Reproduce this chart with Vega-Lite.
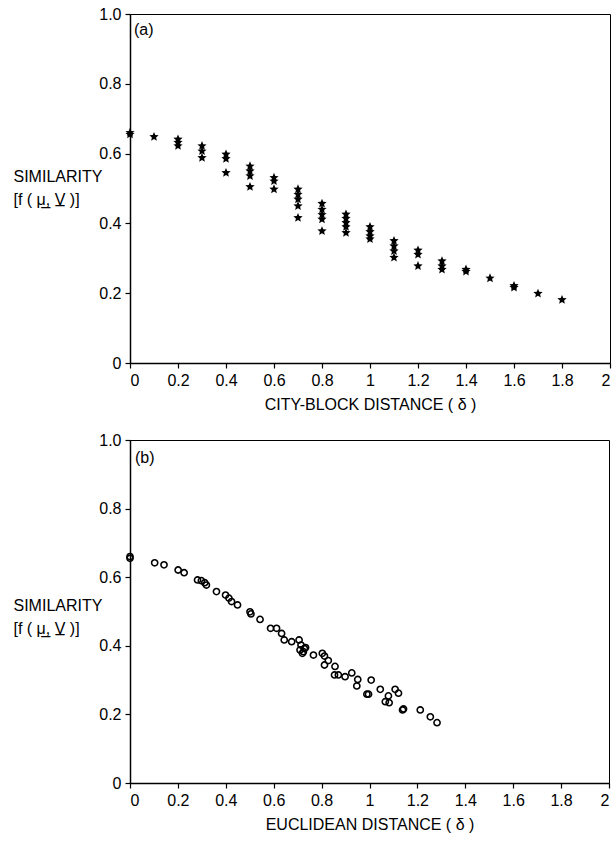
{
  "$schema": "https://vega.github.io/schema/vega-lite/v6.json",
  "padding": {"left": 12, "top": 5, "right": 0, "bottom": 0},
  "background": "white",
  "spacing": 18,
  "config": {
    "font": "Liberation Sans Narrow, Liberation Sans, Arial, sans-serif",
    "view": {"stroke": "black", "strokeWidth": 1},
    "axis": {
      "domainColor": "black",
      "domainWidth": 1.5,
      "tickColor": "black",
      "tickWidth": 1.2,
      "tickSize": 5,
      "labelColor": "black",
      "labelFontSize": 16,
      "labelPadding": 4,
      "titleColor": "black",
      "titleFontSize": 16,
      "titleFontWeight": "normal",
      "grid": false
    }
  },
  "datasets": {
    "cityBlock": [
      {"distance": 0.0, "similarity": 0.660}, {"distance": 0.0, "similarity": 0.655},
      {"distance": 0.1, "similarity": 0.648},
      {"distance": 0.2, "similarity": 0.641}, {"distance": 0.2, "similarity": 0.632}, {"distance": 0.2, "similarity": 0.622},
      {"distance": 0.3, "similarity": 0.622}, {"distance": 0.3, "similarity": 0.607}, {"distance": 0.3, "similarity": 0.588},
      {"distance": 0.4, "similarity": 0.598}, {"distance": 0.4, "similarity": 0.585}, {"distance": 0.4, "similarity": 0.545},
      {"distance": 0.5, "similarity": 0.564}, {"distance": 0.5, "similarity": 0.550}, {"distance": 0.5, "similarity": 0.536}, {"distance": 0.5, "similarity": 0.505},
      {"distance": 0.6, "similarity": 0.531}, {"distance": 0.6, "similarity": 0.521}, {"distance": 0.6, "similarity": 0.498},
      {"distance": 0.7, "similarity": 0.498}, {"distance": 0.7, "similarity": 0.483}, {"distance": 0.7, "similarity": 0.469}, {"distance": 0.7, "similarity": 0.450}, {"distance": 0.7, "similarity": 0.416},
      {"distance": 0.8, "similarity": 0.457}, {"distance": 0.8, "similarity": 0.440}, {"distance": 0.8, "similarity": 0.425}, {"distance": 0.8, "similarity": 0.412}, {"distance": 0.8, "similarity": 0.378},
      {"distance": 0.9, "similarity": 0.426}, {"distance": 0.9, "similarity": 0.414}, {"distance": 0.9, "similarity": 0.402}, {"distance": 0.9, "similarity": 0.390}, {"distance": 0.9, "similarity": 0.373},
      {"distance": 1.0, "similarity": 0.390}, {"distance": 1.0, "similarity": 0.376}, {"distance": 1.0, "similarity": 0.364}, {"distance": 1.0, "similarity": 0.355},
      {"distance": 1.1, "similarity": 0.350}, {"distance": 1.1, "similarity": 0.335}, {"distance": 1.1, "similarity": 0.321}, {"distance": 1.1, "similarity": 0.302},
      {"distance": 1.2, "similarity": 0.323}, {"distance": 1.2, "similarity": 0.311}, {"distance": 1.2, "similarity": 0.278},
      {"distance": 1.3, "similarity": 0.292}, {"distance": 1.3, "similarity": 0.278}, {"distance": 1.3, "similarity": 0.268},
      {"distance": 1.4, "similarity": 0.268}, {"distance": 1.4, "similarity": 0.262},
      {"distance": 1.5, "similarity": 0.243},
      {"distance": 1.6, "similarity": 0.221}, {"distance": 1.6, "similarity": 0.216},
      {"distance": 1.7, "similarity": 0.199},
      {"distance": 1.8, "similarity": 0.181}
    ],
    "euclidean": [
      {"distance": 0.000, "similarity": 0.655}, {"distance": 0.000, "similarity": 0.660},
      {"distance": 0.103, "similarity": 0.642}, {"distance": 0.142, "similarity": 0.636},
      {"distance": 0.201, "similarity": 0.621}, {"distance": 0.226, "similarity": 0.613},
      {"distance": 0.282, "similarity": 0.592}, {"distance": 0.298, "similarity": 0.590},
      {"distance": 0.312, "similarity": 0.584}, {"distance": 0.319, "similarity": 0.577},
      {"distance": 0.361, "similarity": 0.558}, {"distance": 0.399, "similarity": 0.548},
      {"distance": 0.413, "similarity": 0.539}, {"distance": 0.424, "similarity": 0.529},
      {"distance": 0.449, "similarity": 0.519}, {"distance": 0.501, "similarity": 0.499},
      {"distance": 0.505, "similarity": 0.493}, {"distance": 0.543, "similarity": 0.477},
      {"distance": 0.587, "similarity": 0.451}, {"distance": 0.612, "similarity": 0.451},
      {"distance": 0.633, "similarity": 0.436}, {"distance": 0.644, "similarity": 0.417},
      {"distance": 0.675, "similarity": 0.412}, {"distance": 0.706, "similarity": 0.417},
      {"distance": 0.714, "similarity": 0.402}, {"distance": 0.710, "similarity": 0.388},
      {"distance": 0.724, "similarity": 0.383}, {"distance": 0.733, "similarity": 0.395},
      {"distance": 0.728, "similarity": 0.392}, {"distance": 0.720, "similarity": 0.378},
      {"distance": 0.766, "similarity": 0.373}, {"distance": 0.803, "similarity": 0.378},
      {"distance": 0.812, "similarity": 0.370}, {"distance": 0.828, "similarity": 0.357},
      {"distance": 0.812, "similarity": 0.344}, {"distance": 0.856, "similarity": 0.340},
      {"distance": 0.854, "similarity": 0.315}, {"distance": 0.870, "similarity": 0.315},
      {"distance": 0.898, "similarity": 0.310}, {"distance": 0.926, "similarity": 0.321},
      {"distance": 0.951, "similarity": 0.302}, {"distance": 0.947, "similarity": 0.283},
      {"distance": 1.007, "similarity": 0.300}, {"distance": 0.996, "similarity": 0.259},
      {"distance": 0.989, "similarity": 0.259}, {"distance": 1.045, "similarity": 0.273},
      {"distance": 1.079, "similarity": 0.254}, {"distance": 1.066, "similarity": 0.237},
      {"distance": 1.082, "similarity": 0.234}, {"distance": 1.107, "similarity": 0.273},
      {"distance": 1.121, "similarity": 0.262}, {"distance": 1.138, "similarity": 0.213},
      {"distance": 1.142, "similarity": 0.216}, {"distance": 1.212, "similarity": 0.213},
      {"distance": 1.254, "similarity": 0.193}, {"distance": 1.282, "similarity": 0.176}
    ],
    "panelA": [{"tag": "(a)"}],
    "panelB": [{"tag": "(b)"}]
  },
  "vconcat": [
    {
      "width": 480,
      "height": 349,
      "layer": [
        {
          "data": {"name": "cityBlock"},
          "mark": {
            "type": "point",
            "shape": "M0,-1L0.265,-0.364L0.951,-0.309L0.428,0.139L0.588,0.809L0,0.45L-0.588,0.809L-0.428,0.139L-0.951,-0.309L-0.265,-0.364Z",
            "filled": true, "color": "black", "size": 95, "opacity": 1
          },
          "encoding": {
            "x": {
              "field": "distance", "type": "quantitative",
              "scale": {"domain": [0, 2], "nice": false},
              "axis": {
                "values": [0, 0.2, 0.4, 0.6, 0.8, 1, 1.2, 1.4, 1.6, 1.8, 2],
                "labelExpr": "format(datum.value, '~g')",
                "title": "CITY-BLOCK DISTANCE    ( δ )",
                "titlePadding": 8
              }
            },
            "y": {
              "field": "similarity", "type": "quantitative",
              "scale": {"domain": [0, 1], "nice": false},
              "axis": {
                "values": [0, 0.2, 0.4, 0.6, 0.8, 1],
                "labelExpr": "datum.value == 0 ? '0' : format(datum.value, '.1f')",
                "title": ["SIMILARITY", "[f ( μ̲, V̲ )]"],
                "titleAngle": 0,
                "titleAlign": "left",
                "titleBaseline": "alphabetic",
                "titleLineHeight": 23,
                "titleX": -117,
                "titleY": 167
              }
            }
          }
        },
        {
          "data": {"name": "panelA"},
          "mark": {"type": "text", "align": "left", "baseline": "top", "dx": 4, "dy": 8, "fontSize": 16, "color": "black"},
          "encoding": {
            "x": {"datum": 0, "type": "quantitative"},
            "y": {"datum": 1, "type": "quantitative"},
            "text": {"field": "tag"}
          }
        }
      ]
    },
    {
      "width": 479,
      "height": 343,
      "layer": [
        {
          "data": {"name": "euclidean"},
          "mark": {"type": "point", "shape": "circle", "filled": false, "color": "black", "size": 38, "strokeWidth": 1.6, "opacity": 1},
          "encoding": {
            "x": {
              "field": "distance", "type": "quantitative",
              "scale": {"domain": [0, 2], "nice": false},
              "axis": {
                "values": [0, 0.2, 0.4, 0.6, 0.8, 1, 1.2, 1.4, 1.6, 1.8, 2],
                "labelExpr": "format(datum.value, '~g')",
                "title": "EUCLIDEAN DISTANCE    ( δ )",
                "titlePadding": 8
              }
            },
            "y": {
              "field": "similarity", "type": "quantitative",
              "scale": {"domain": [0, 1], "nice": false},
              "axis": {
                "values": [0, 0.2, 0.4, 0.6, 0.8, 1],
                "labelExpr": "datum.value == 0 ? '0' : format(datum.value, '.1f')",
                "title": ["SIMILARITY", "[f ( μ̲, V̲ )]"],
                "titleAngle": 0,
                "titleAlign": "left",
                "titleBaseline": "alphabetic",
                "titleLineHeight": 23,
                "titleX": -117,
                "titleY": 170
              }
            }
          }
        },
        {
          "data": {"name": "panelB"},
          "mark": {"type": "text", "align": "left", "baseline": "top", "dx": 5, "dy": 10, "fontSize": 16, "color": "black"},
          "encoding": {
            "x": {"datum": 0, "type": "quantitative"},
            "y": {"datum": 1, "type": "quantitative"},
            "text": {"field": "tag"}
          }
        }
      ]
    }
  ]
}
